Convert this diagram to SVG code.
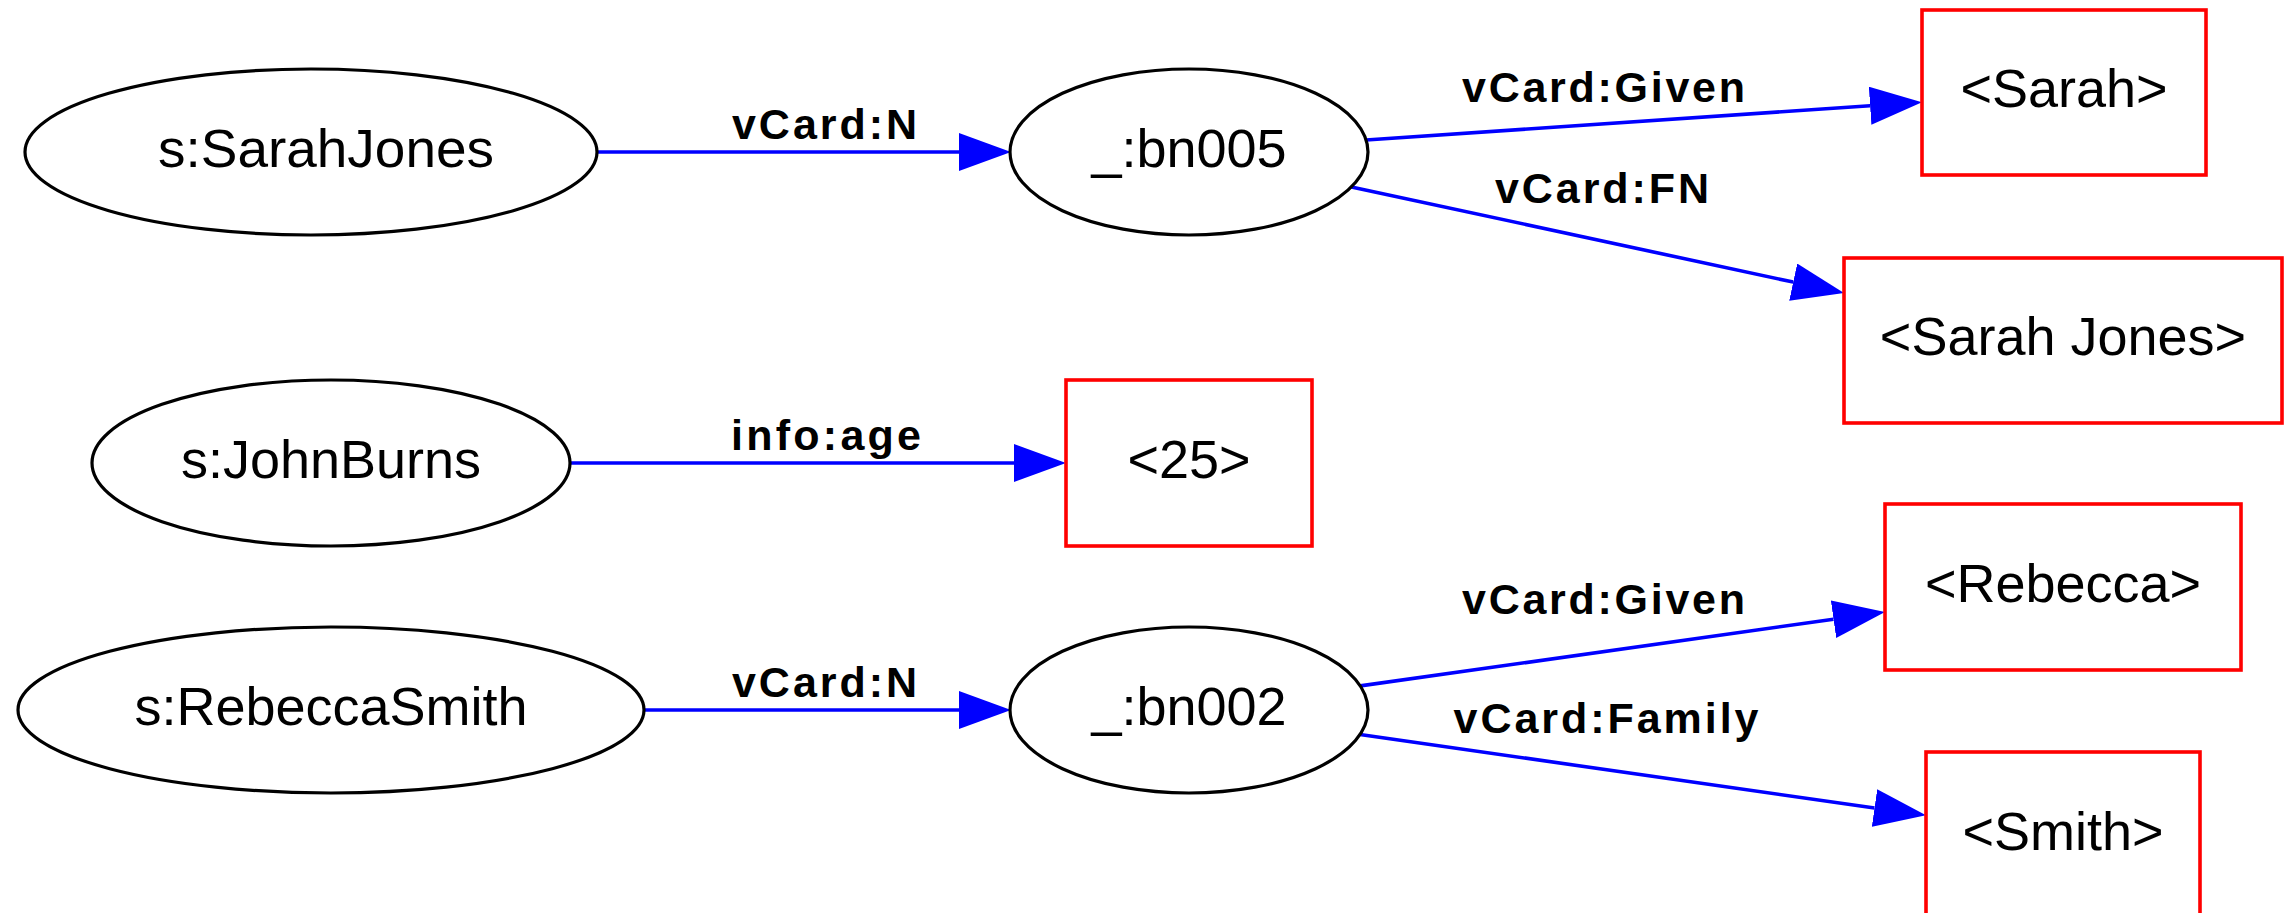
<svg xmlns="http://www.w3.org/2000/svg" width="2285" height="913" viewBox="0 0 2285 913">
<style>
.ell{fill:#fff;stroke:#000;stroke-width:3.2}
.box{fill:#fff;stroke:#f00;stroke-width:3.6}
.nt{font-family:"Liberation Sans",Arial,sans-serif;font-size:54px;text-anchor:middle;fill:#000}
.et{font-family:"Liberation Sans",Arial,sans-serif;font-size:43px;font-weight:bold;text-anchor:middle;fill:#000}
.edge{stroke:#00f;stroke-width:3.6;fill:none;marker-end:url(#arr)}
</style>
<defs>
<marker id="arr" markerUnits="userSpaceOnUse" markerWidth="54" markerHeight="40" refX="0" refY="19" orient="auto" viewBox="0 0 54 40">
<path d="M0,0 L52,19 L0,38 z" fill="#00f"/>
</marker>
</defs>
<rect width="2285" height="913" fill="#fff"/>
<g id="connectors">
<line class="edge" x1="597" y1="152" x2="959" y2="152"/>
<line class="edge" x1="570" y1="463" x2="1014" y2="463"/>
<line class="edge" x1="645" y1="710" x2="959" y2="710"/>
<line class="edge" x1="1366" y1="140" x2="1870.1" y2="105.7"/>
<line class="edge" x1="1351.4" y1="186.9" x2="1793.2" y2="282.1"/>
<line class="edge" x1="1360.3" y1="685.9" x2="1833.5" y2="619.2"/>
<line class="edge" x1="1360" y1="734.5" x2="1874.5" y2="808"/>
<text class="et" x="824.5" y="139" textLength="185" lengthAdjust="spacing">vCard:N</text>
<text class="et" x="826" y="450" textLength="190" lengthAdjust="spacing">info:age</text>
<text class="et" x="824.5" y="697" textLength="185" lengthAdjust="spacing">vCard:N</text>
<text class="et" x="1603.5" y="102" textLength="283" lengthAdjust="spacing">vCard:Given</text>
<text class="et" x="1602" y="203" textLength="214" lengthAdjust="spacing">vCard:FN</text>
<text class="et" x="1603.5" y="614" textLength="283" lengthAdjust="spacing">vCard:Given</text>
<text class="et" x="1606" y="733" textLength="305" lengthAdjust="spacing">vCard:Family</text>
</g>
<g id="sarahjones"><ellipse class="ell" cx="311" cy="152" rx="286" ry="83"/><text class="nt" x="326" y="167" textLength="336" lengthAdjust="spacingAndGlyphs">s:SarahJones</text></g>
<g id="johnburns"><ellipse class="ell" cx="331" cy="463" rx="239" ry="83"/><text class="nt" x="331" y="478">s:JohnBurns</text></g>
<g id="rebeccasmith"><ellipse class="ell" cx="331" cy="710" rx="313" ry="83"/><text class="nt" x="331" y="725">s:RebeccaSmith</text></g>
<g id="bn005"><ellipse class="ell" cx="1189" cy="152" rx="179" ry="83"/><text class="nt" x="1189" y="167">_:bn005</text></g>
<g id="bn002"><ellipse class="ell" cx="1189" cy="710" rx="179" ry="83"/><text class="nt" x="1189" y="725">_:bn002</text></g>
<g id="sarah"><rect class="box" x="1922" y="10" width="284" height="165"/><text class="nt" x="2064" y="107">&lt;Sarah&gt;</text></g>
<g id="sarahjonesLit"><rect class="box" x="1844" y="258" width="438" height="165"/><text class="nt" x="2063" y="355">&lt;Sarah Jones&gt;</text></g>
<g id="age25"><rect class="box" x="1066" y="380" width="246" height="166"/><text class="nt" x="1189" y="478">&lt;25&gt;</text></g>
<g id="rebecca"><rect class="box" x="1885" y="504" width="356" height="166"/><text class="nt" x="2063" y="602">&lt;Rebecca&gt;</text></g>
<g id="smith"><rect class="box" x="1926" y="752" width="274" height="166"/><text class="nt" x="2063" y="850">&lt;Smith&gt;</text></g>
</svg>
